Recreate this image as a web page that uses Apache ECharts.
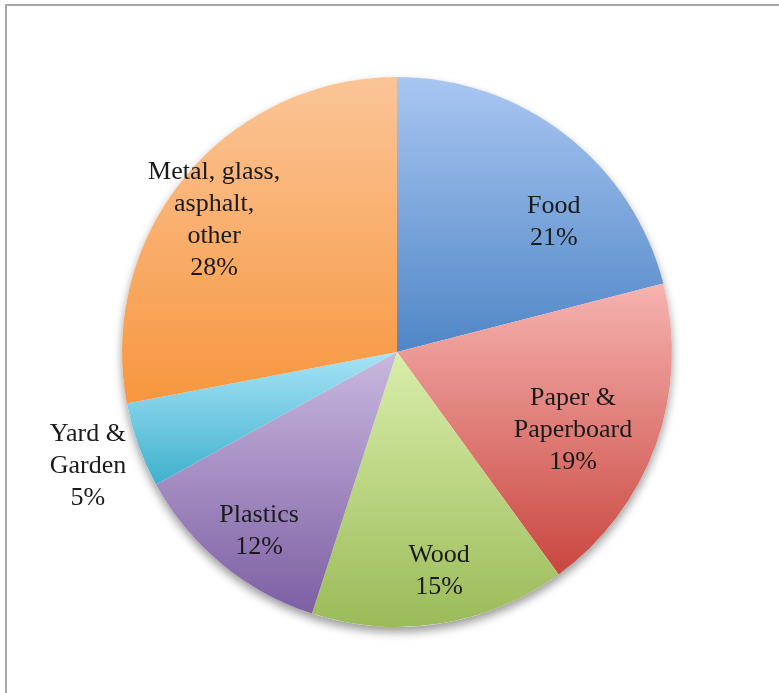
<!DOCTYPE html>
<html><head><meta charset="utf-8">
<script src="https://cdn.jsdelivr.net/npm/echarts@6/dist/echarts.min.js"></script>
<style>html,body{margin:0;padding:0;background:#fff}#c{width:779px;height:693px}</style>
</head><body><div id="c"></div>
<script>
const categories = ['Food', 'Paper &\nPaperboard', 'Wood', 'Plastics', 'Yard &\nGarden', 'Metal, glass,\nasphalt,\nother'];
const values = [21, 19, 15, 12, 5, 28];
const colorTop = ['#a9c6f2', '#f6b3b0', '#d9eeaa', '#c9b8df', '#a7e3f6', '#fbc597'];
const colorBottom = ['#4f86c6', '#c9463f', '#9bbb59', '#7d5fa3', '#3fb1cd', '#f7963f'];
// label placement (polar, relative to pie): angle clockwise from 12 o'clock, radius fraction
const labelAngle = [50.4, 113.9, 169.1, 217.6, 249.75, 305.8];
const labelRadius = [0.74, 0.70, 0.81, 0.822, 1.198, 0.82];

const W = 779, H = 693;
const CX = 397, CY = 352, R = 275;

const chart = echarts.init(document.getElementById('c'), null, {renderer: 'canvas'});
const data = categories.map((n, i) => ({
  name: n, value: values[i],
  itemStyle: {
    color: new echarts.graphic.LinearGradient(0, 0, 0, 1, [
      {offset: 0, color: colorTop[i]}, {offset: 1, color: colorBottom[i]}
    ])
  }
}));
chart.setOption({
  animation: false,
  backgroundColor: '#fff',
  graphic: [
    {type: 'polyline', shape: {points: [[6, H], [6, 5], [W, 5]]}, style: {stroke: '#a8a8a8', lineWidth: 2, fill: null}, z: 0}
  ],
  series: [
    {
      type: 'pie', silent: true, center: [CX, CY], radius: R, z: 1,
      label: {show: false}, labelLine: {show: false},
      itemStyle: {color: '#fff', shadowBlur: 10, shadowOffsetY: 5, shadowColor: 'rgba(0,0,0,0.4)'},
      data: [{value: 1, name: 'bg'}]
    },
    {
      type: 'pie', center: [CX, CY], radius: R, startAngle: 90, clockwise: true, z: 2,
      data: data,
      itemStyle: {borderWidth: 0},
      labelLine: {show: false},
      label: {
        show: true, position: 'inside',
        formatter: p => p.name + '\n' + p.value + '%',
        fontFamily: 'Liberation Serif', fontSize: 26, lineHeight: 32,
        color: '#1a1a1a', align: 'center', verticalAlign: 'middle'
      },
      labelLayout: function (p) {
        const i = p.dataIndex;
        const a = labelAngle[i] * Math.PI / 180;
        const r = labelRadius[i] * R;
        return {x: CX + r * Math.sin(a), y: CY - r * Math.cos(a), align: 'center', verticalAlign: 'middle'};
      }
    }
  ]
});
</script></body></html>
